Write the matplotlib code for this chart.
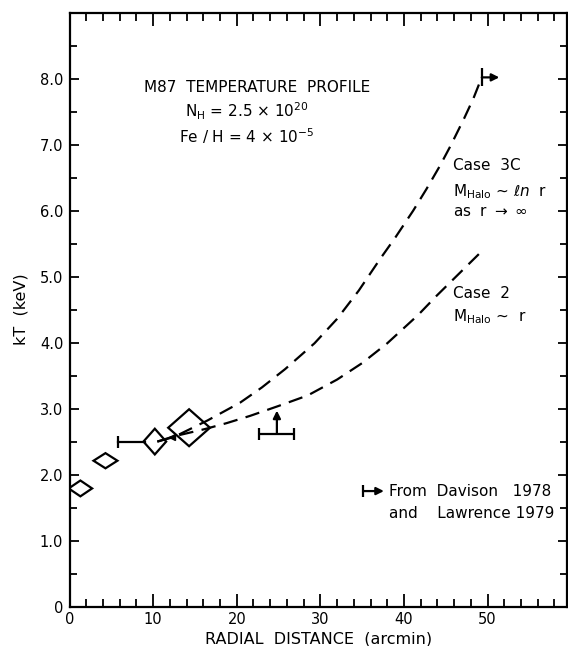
import matplotlib
matplotlib.use('Agg')
import matplotlib.pyplot as plt
from matplotlib.patches import Polygon
from matplotlib.ticker import FixedLocator, MultipleLocator

# diamonds: centre r, centre kT, half width (arcmin), half height (keV)
dia_r = [1.3, 4.3, 10.2, 14.3]
dia_kt = [1.79, 2.21, 2.50, 2.71]
dia_hw = [1.4, 1.43, 1.36, 2.5]
dia_hh = [0.12, 0.115, 0.195, 0.28]

# model curves
c3_r = [10.5, 12.5, 16.5, 20.4, 23.0, 25.8, 29.3, 32.0, 34.6, 37.1, 39.0, 41.1, 42.7, 44.3, 45.6, 47.2, 48.3, 49.3]
c3_kt = [2.50, 2.57, 2.82, 3.09, 3.32, 3.60, 3.99, 4.36, 4.79, 5.26, 5.60, 6.00, 6.33, 6.68, 6.99, 7.40, 7.70, 8.02]
c2_r = [10.5, 12.5, 16.2, 18.8, 21.6, 25.0, 28.5, 32.0, 35.0, 38.0, 41.7, 43.9, 46.7, 49.5]
c2_kt = [2.50, 2.58, 2.69, 2.78, 2.89, 3.04, 3.20, 3.44, 3.69, 3.99, 4.42, 4.71, 5.06, 5.41]

# Davison / Lawrence points
dav_r = [5.84, 9.03]
dav_kt = 2.50
lim_r, lim_lo, lim_hi, lim_kt, lim_top = 24.8, 22.7, 26.85, 2.62, 2.97
top_r, top_kt, top_end = 49.3, 8.02, 51.4

yticks = [0, 1, 2, 3, 4, 5, 6, 7, 8]
ylabels = ['0', '1.0', '2.0', '3.0', '4.0', '5.0', '6.0', '7.0', '8.0']
xticks = [0, 10, 20, 30, 40, 50]
xlabels = ['0', '10', '20', '30', '40', '50']

fig = plt.figure(figsize=(5.68, 6.46), dpi=100)
ax = fig.add_axes([0.1224, 0.0611, 0.8759, 0.9192])
ax.set_xlim(0, 59.5)
ax.set_ylim(0, 9.0)

lw = 1.6
for r, t, hw, hh in zip(dia_r, dia_kt, dia_hw, dia_hh):
    ax.add_patch(Polygon([(r - hw, t), (r, t + hh), (r + hw, t), (r, t - hh)],
                         closed=True, fill=False, ec='black', lw=lw))

ax.plot(c3_r, c3_kt, color='black', lw=lw, dashes=(6.5, 3.8))
ax.plot(c2_r, c2_kt, color='black', lw=lw, dashes=(6.5, 3.8))
ax.plot([12.3], [2.57], marker='<', color='black', ms=5)

# Davison bar
ax.plot(dav_r, [dav_kt, dav_kt], color='black', lw=lw)
ax.plot([dav_r[0]], [dav_kt], marker='|', color='black', ms=9, mew=lw)

# lower limit
ax.errorbar([lim_r], [lim_kt], xerr=[[lim_r - lim_lo], [lim_hi - lim_r]],
            fmt='none', ecolor='black', elinewidth=lw, capsize=4.5, capthick=lw)
ax.annotate('', xy=(lim_r, lim_top), xytext=(lim_r, lim_kt),
            arrowprops=dict(arrowstyle='-|>', color='black', lw=lw,
                            mutation_scale=11, shrinkA=0, shrinkB=0))

# top arrow
ax.plot([top_r], [top_kt], marker='|', color='black', ms=13, mew=lw)
ax.annotate('', xy=(top_end, top_kt), xytext=(top_r, top_kt),
            arrowprops=dict(arrowstyle='-|>', color='black', lw=lw,
                            mutation_scale=11, shrinkA=0, shrinkB=0))

# legend symbol
ax.plot([35.1], [1.75], marker='|', color='black', ms=9, mew=lw)
ax.annotate('', xy=(37.6, 1.75), xytext=(35.1, 1.75),
            arrowprops=dict(arrowstyle='-|>', color='black', lw=lw,
                            mutation_scale=11, shrinkA=0, shrinkB=0))

fs = 11
ax.text(38.2, 1.75, 'From  Davison   1978', fontsize=fs, va='center', ha='left')
ax.text(38.2, 1.41, 'and    Lawrence 1979', fontsize=fs, va='center', ha='left')

ax.text(22.4, 7.86, 'M87  TEMPERATURE  PROFILE', fontsize=fs, ha='center', va='center')
ax.text(21.2, 7.50, r'N$_{\rm H}$ = 2.5 $\times$ 10$^{20}$', fontsize=fs, ha='center', va='center')
ax.text(21.2, 7.13, r'Fe / H = 4 $\times$ 10$^{-5}$', fontsize=fs, ha='center', va='center')

ax.text(45.9, 6.69, 'Case  3C', fontsize=fs, ha='left', va='center')
ax.text(45.9, 6.29, r'M$_{\rm Halo}$ ~ $\ell n$  r', fontsize=fs, ha='left', va='center')
ax.text(45.9, 5.99, r'as  r $\rightarrow$ $\infty$', fontsize=fs, ha='left', va='center')
ax.text(45.9, 4.74, 'Case  2', fontsize=fs, ha='left', va='center')
ax.text(45.9, 4.40, r'M$_{\rm Halo}$ ~  r', fontsize=fs, ha='left', va='center')

ax.xaxis.set_major_locator(FixedLocator(xticks))
ax.set_xticklabels(xlabels)
ax.xaxis.set_minor_locator(MultipleLocator(2))
ax.yaxis.set_major_locator(FixedLocator(yticks))
ax.set_yticklabels(ylabels)
ax.yaxis.set_minor_locator(MultipleLocator(0.5))

ax.tick_params(which='both', direction='in', top=True, right=True, width=1.3,
               labelsize=10.5, color='black')
ax.tick_params(axis='x', which='major', length=9.5, pad=4)
ax.tick_params(axis='x', which='minor', length=6)
ax.tick_params(axis='y', which='major', length=6.5, pad=4.5)
ax.tick_params(axis='y', which='minor', length=5)
for s in ax.spines.values():
    s.set_linewidth(1.6)

ax.set_xlabel('RADIAL  DISTANCE  (arcmin)', fontsize=11.5, labelpad=3)
ax.set_ylabel('kT  (keV)', fontsize=11.5, labelpad=8)

fig.savefig('out.png', dpi=100)
